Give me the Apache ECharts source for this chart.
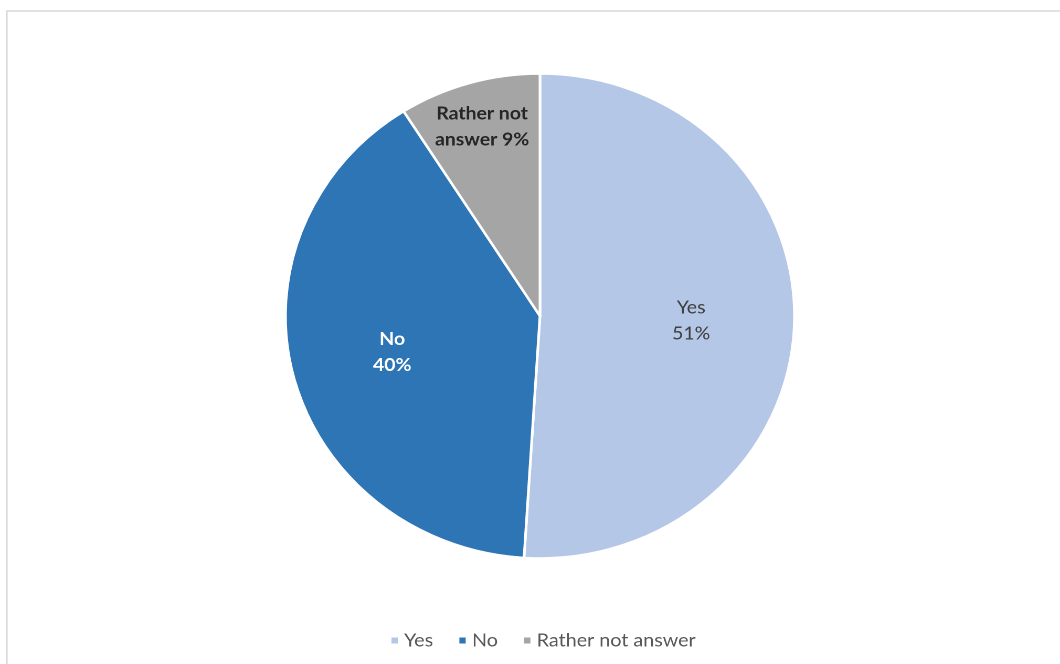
<!DOCTYPE html>
<html>
<head>
<meta charset="utf-8">
<script src="https://cdn.jsdelivr.net/npm/echarts@6/dist/echarts.min.js"></script>
<style>
html,body{margin:0;padding:0;background:#fff;overflow:hidden;}
#wrap{width:1060px;height:664px;overflow:hidden;}
#chart{width:1010px;height:664px;transform:scaleX(1.0495);transform-origin:0 0;}
</style>
</head>
<body>
<div id="wrap"><div id="chart"></div></div>
<script>
const categories = ["Yes", "No", "Rather not answer"];
const values = [51, 40, 9];
const colors = ["#B4C7E7", "#2E75B6", "#A5A5A5"];
const labelTexts = ["Yes\n51%", "No\n40%", "Rather not\nanswer 9%"];
const labelRadialFactor = [1.16, 1.17, 1.59];

const CX = 514.5, CY = 316, R = 242.5;
const chart = echarts.init(document.getElementById('chart'), null, {renderer: 'canvas', devicePixelRatio: 2});

const labelStyles = [
  {color: '#404040', fontWeight: 'normal'},
  {color: '#ffffff', fontWeight: 'bold'},
  {color: '#262626', fontWeight: 'bold'}
];

chart.setOption({
  animation: false,
  backgroundColor: '#ffffff',
  graphic: [{
    type: 'rect', silent: true, z: -10,
    shape: {x: 6.5, y: 11, width: 1200, height: 800},
    style: {fill: 'none', stroke: '#d9d9d9', lineWidth: 1.5}
  }],
  legend: {
    bottom: 9,
    left: 366,
    icon: 'rect',
    itemWidth: 8,
    itemHeight: 8,
    itemGap: 23,
    textStyle: {fontFamily: 'Lato', fontSize: 18.8, color: '#595959'},
    data: categories
  },
  series: [{
    type: 'pie',
    center: [CX, CY],
    radius: [0, R],
    startAngle: 90,
    clockwise: true,
    avoidLabelOverlap: false,
    itemStyle: {borderColor: '#ffffff', borderWidth: 2.5},
    label: {
      show: true,
      position: 'inside',
      fontFamily: 'Lato',
      fontSize: 18.5,
      lineHeight: 26,
      align: 'center',
      formatter: p => labelTexts[p.dataIndex]
    },
    labelLine: {show: false},
    labelLayout: function (p) {
      const k = labelRadialFactor[p.dataIndex];
      const lx = p.labelRect.x + p.labelRect.width / 2;
      const ly = p.labelRect.y + p.labelRect.height / 2;
      return {dx: (lx - CX) * (k - 1), dy: (ly - CY) * (k - 1)};
    },
    data: categories.map((c, i) => ({
      name: c,
      value: values[i],
      itemStyle: {color: colors[i]},
      label: labelStyles[i]
    }))
  }]
});
</script>
</body>
</html>
